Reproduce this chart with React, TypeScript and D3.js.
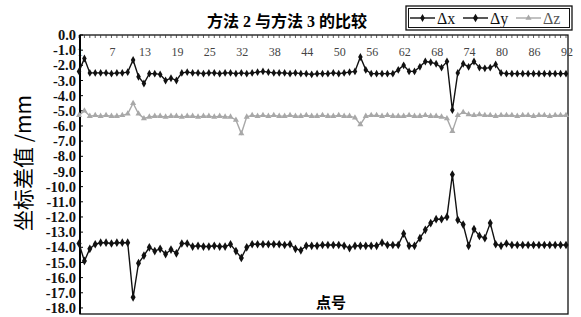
import { useEffect, useRef } from "react";
import * as d3 from "d3";

// point numbers (no. 31 is missing in the survey)
const pointIds: number[] = [
  ...d3.range(1, 31),
  ...d3.range(32, 93),
];

// tick labels shown along the category axis
const xTickLabels = ["1", "7", "13", "19", "25", "32", "38", "44", "50", "56", "62", "68", "74", "80", "86", "92"];
const yTicks = d3.range(0, -19, -1);

const dxValues = [
  -2.4, -1.55, -2.5, -2.5, -2.5, -2.5, -2.55, -2.5, -2.5, -2.45,
  -1.65, -2.75, -3.2, -2.55, -2.55, -2.6, -3.0, -2.85, -3.0, -2.5,
  -2.45, -2.5, -2.5, -2.55, -2.5, -2.5, -2.55, -2.5, -2.5, -2.55,
  -2.5, -2.55, -2.5, -2.45, -2.4, -2.45, -2.5, -2.5, -2.5, -2.55,
  -2.5, -2.55, -2.55, -2.6, -2.55, -2.55, -2.55, -2.5, -2.55, -2.5,
  -2.45, -2.4, -1.45, -2.3, -2.55, -2.55, -2.55, -2.55, -2.55, -2.3,
  -2.0, -2.4, -2.4, -2.1, -1.75, -1.8, -1.9, -2.15, -1.75, -4.95,
  -2.5, -1.9, -2.1, -1.75, -2.15, -2.2, -2.15, -1.95, -2.5, -2.55,
  -2.55, -2.55, -2.55, -2.55, -2.55, -2.55, -2.55, -2.55, -2.55, -2.55,
  -2.55,
];

const dyValues = [
  -13.75, -14.9, -14.1, -13.8, -13.7, -13.7, -13.75, -13.7, -13.7, -13.7,
  -17.3, -15.05, -14.55, -14.0, -14.25, -14.1, -14.45, -14.15, -14.4, -13.75,
  -13.75, -13.95, -13.9, -13.95, -13.95, -13.9, -13.95, -13.95, -13.8, -14.25,
  -14.7, -14.0, -13.8, -13.8, -13.8, -13.8, -13.8, -13.8, -13.85, -13.8,
  -14.1, -14.2, -13.9, -13.9, -13.9, -13.85, -13.85, -13.85, -13.85, -13.9,
  -14.05, -13.9, -13.9, -13.9, -13.9, -13.9, -13.7, -13.85, -13.85, -13.85,
  -13.1, -13.9, -13.9, -13.4, -12.85, -12.4, -12.15, -12.15, -12.0, -9.2,
  -12.2, -12.5, -13.9, -12.8, -13.25, -13.4, -12.4, -13.8, -13.9, -13.75,
  -13.85, -13.85, -13.85, -13.85, -13.85, -13.85, -13.85, -13.85, -13.85, -13.85,
  -13.85,
];

const dzValues = [
  -5.3, -5.0, -5.35, -5.3, -5.35, -5.3, -5.35, -5.35, -5.3, -5.2,
  -4.5, -5.2, -5.5, -5.4, -5.35, -5.35, -5.4, -5.35, -5.35, -5.4,
  -5.35, -5.35, -5.4, -5.35, -5.35, -5.4, -5.35, -5.4, -5.4, -5.6,
  -6.5, -5.4, -5.3, -5.35, -5.3, -5.35, -5.3, -5.35, -5.35, -5.3,
  -5.35, -5.35, -5.3, -5.35, -5.35, -5.3, -5.35, -5.35, -5.3, -5.35,
  -5.35, -5.45, -5.9, -5.35, -5.3, -5.3, -5.35, -5.3, -5.35, -5.35,
  -5.35, -5.3, -5.35, -5.35, -5.3, -5.35, -5.35, -5.4, -5.5, -6.35,
  -5.3, -5.1, -5.25, -5.3, -5.25, -5.3, -5.3, -5.35, -5.3, -5.3,
  -5.3, -5.35, -5.3, -5.3, -5.35, -5.3, -5.3, -5.35, -5.3, -5.3,
  -5.3,
];

const seriesNames = ["Δx", "Δy", "Δz"];

const SERIF = '"Liberation Serif", "Times New Roman", "Noto Sans CJK SC", serif';
const CJK = '"Noto Sans CJK SC", "Liberation Serif", serif';

export default function App() {
  const ref = useRef<SVGSVGElement>(null);

  useEffect(() => {
    const svg = d3.select(ref.current);
    svg.selectAll("*").remove();

    const W = 581, H = 317;
    const left = 80, right = 568, top = 35, bottom = 314;

    const x = d3.scalePoint<number>().domain(pointIds).range([79, 566]);
    const y = d3.scaleLinear().domain([-18.4, 0]).range([bottom, top]);

    svg.append("rect").attr("width", W).attr("height", H).attr("fill", "#fff");

    // title
    svg.append("text")
      .attr("x", 287).attr("y", 27)
      .attr("text-anchor", "middle")
      .attr("font-family", SERIF)
      .attr("font-size", 16).attr("font-weight", "bold")
      .text("方法 2 与方法 3 的比较");

    // frame
    svg.append("rect")
      .attr("x", left).attr("y", top)
      .attr("width", right - left).attr("height", bottom - top)
      .attr("fill", "none").attr("stroke", "#111").attr("stroke-width", 1.3);

    // category axis along the top (crosses at 0)
    const topAxis = svg.append("g").attr("transform", `translate(0,${top})`);
    topAxis.selectAll("line.tk")
      .data(pointIds)
      .enter().append("line")
      .attr("class", "tk")
      .attr("x1", (d) => x(d)!).attr("x2", (d) => x(d)!)
      .attr("y1", 0).attr("y2", 3)
      .attr("stroke", "#333").attr("stroke-width", 0.8);
    topAxis.selectAll("text")
      .data(xTickLabels)
      .enter().append("text")
      .attr("x", (d) => x(+d)! + 1)
      .attr("y", 21)
      .attr("text-anchor", "middle")
      .attr("font-family", SERIF)
      .attr("font-size", 12)
      .attr("fill", "#444")
      .text((d) => d);

    // value axis
    const yAxis = svg.append("g");
    yAxis.append("line")
      .attr("x1", left).attr("x2", left).attr("y1", top).attr("y2", bottom)
      .attr("stroke", "#000").attr("stroke-width", 2);
    yAxis.selectAll("line.tk")
      .data(yTicks)
      .enter().append("line")
      .attr("class", "tk")
      .attr("x1", left).attr("x2", left + 3)
      .attr("y1", (d) => y(d)).attr("y2", (d) => y(d))
      .attr("stroke", "#000");
    yAxis.selectAll("text")
      .data(yTicks)
      .enter().append("text")
      .attr("x", 76)
      .attr("y", (d) => y(d))
      .attr("dy", "0.35em")
      .attr("text-anchor", "end")
      .attr("font-family", SERIF)
      .attr("font-size", 14.5)
      .attr("font-weight", "bold")
      .attr("fill", "#111")
      .text((d) => d.toFixed(1));

    // axis titles
    svg.append("text")
      .attr("transform", "translate(22,163) rotate(-90)")
      .attr("text-anchor", "middle")
      .attr("dominant-baseline", "central")
      .attr("font-family", CJK)
      .attr("font-size", 21)
      .text("坐标差值 /mm");

    svg.append("text")
      .attr("x", 331).attr("y", 308)
      .attr("text-anchor", "middle")
      .attr("font-family", CJK)
      .attr("font-size", 15).attr("font-weight", "bold")
      .text("点号");

    // series
    const line = d3.line<number>()
      .x((d, i) => x(pointIds[i])!)
      .y((d) => y(d));

    const series = [
      { values: dxValues, color: "#111", symbol: d3.symbolDiamond, size: 18 },
      { values: dyValues, color: "#111", symbol: d3.symbolDiamond, size: 22 },
      { values: dzValues, color: "#a8a8a8", symbol: d3.symbolTriangle, size: 16 },
    ];

    series.forEach((s) => {
      const g = svg.append("g");
      g.append("path")
        .datum(s.values)
        .attr("fill", "none")
        .attr("stroke", s.color)
        .attr("stroke-width", 1.4)
        .attr("d", line);
      g.selectAll("path.mk")
        .data(s.values)
        .enter().append("path")
        .attr("class", "mk")
        .attr("transform", (d, i) => `translate(${x(pointIds[i])},${y(d)})`)
        .attr("d", d3.symbol().type(s.symbol).size(s.size)())
        .attr("fill", s.color);
    });

    // legend
    const lg = svg.append("g");
    lg.append("rect").attr("x", 406).attr("y", 6).attr("width", 166).attr("height", 24)
      .attr("fill", "#fff").attr("stroke", "#111").attr("stroke-width", 1.3);
    lg.append("rect").attr("x", 408.5).attr("y", 8.5).attr("width", 161).attr("height", 19)
      .attr("fill", "none").attr("stroke", "#111").attr("stroke-width", 1);
    const legendX = [410, 463, 516];
    seriesNames.forEach((name, i) => {
      const s = series[i];
      const x0 = legendX[i];
      lg.append("line")
        .attr("x1", x0).attr("x2", x0 + 25).attr("y1", 18).attr("y2", 18)
        .attr("stroke", s.color).attr("stroke-width", 1.4);
      lg.append("path")
        .attr("transform", `translate(${x0 + 12.5},18)`)
        .attr("d", d3.symbol().type(s.symbol).size(s.size)())
        .attr("fill", s.color);
      lg.append("text")
        .attr("x", x0 + 27).attr("y", 18)
        .attr("dy", "0.35em")
        .attr("font-family", SERIF)
        .attr("font-size", 16)
        .attr("fill", i === 2 ? "#555" : "#111")
        .text(name);
    });
  }, []);

  return (
    <svg
      ref={ref}
      width={581}
      height={317}
      style={{ position: "absolute", left: 0, top: 0, display: "block" }}
    />
  );
}
